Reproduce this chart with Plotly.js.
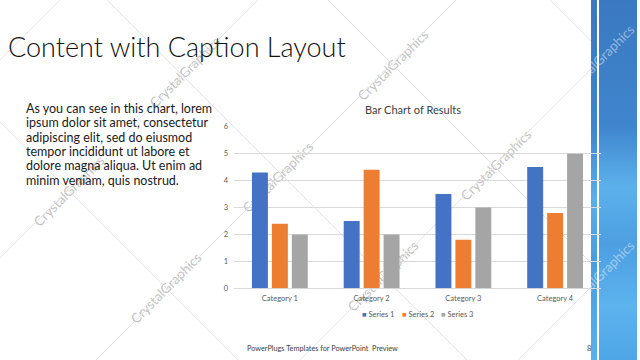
<!DOCTYPE html>
<html><head><meta charset="utf-8">
<script src="https://cdn.plot.ly/plotly-3.0.1.min.js"></script>
<style>
html,body{margin:0;padding:0;background:#fff;width:640px;height:360px;overflow:hidden;}
#band,#wm,#chart{position:absolute;top:0;left:0;width:640px;height:360px;}
#band{z-index:0;} #wm{z-index:1;} #chart{z-index:2;}
.wmt{position:absolute;font-family:Lato,sans-serif;font-size:13.5px;color:#c2c2c2;white-space:nowrap;transform:translate(-50%,-50%) rotate(-45deg);}
.wmt.onblue{color:rgba(255,255,255,0.45);}
</style></head><body>
<div id="band">
  <div style="position:absolute;left:591px;top:0;width:6px;height:360px;background:linear-gradient(to bottom,#3a78c0 0%,#3f84cc 35%,#5aaee9 55%,#4b9ddf 72%,#58b0ec 100%);"></div>
  <div style="position:absolute;left:599px;top:0;width:38px;height:360px;background:linear-gradient(to bottom,#3a79c1 0%,#3f85cd 35%,#5cb1ec 52%,#4d9fe1 68%,#5cb3ee 85%,#4fa6e6 100%);"></div>
</div>
<div id="wm"></div>
<div id="chart"></div>
<script>
// ---- data ----
const categories = ['Category 1', 'Category 2', 'Category 3', 'Category 4'];
const seriesNames = ['Series 1', 'Series 2', 'Series 3'];
const series1 = [4.3, 2.5, 3.5, 4.5];
const series2 = [2.4, 4.4, 1.8, 2.8];
const series3 = [2, 2, 3, 5];
const yTickValues = [0, 1, 2, 3, 4, 5, 6];
const chartTitle = 'Bar Chart of Results';
const slideTitle = 'Content with Caption Layout';
const bodyLines = [
  'As you can see in this chart, lorem',
  'ipsum dolor sit amet, consectetur',
  'adipiscing elit, sed do eiusmod',
  'tempor incididunt ut labore et',
  'dolore magna aliqua. Ut enim ad',
  'minim veniam, quis nostrud.'
];
const footerText = 'PowerPlugs Templates for PowerPoint  Preview';
const pageNumber = '8';
const watermarkText = 'CrystalGraphics';

// ---- style ----
const W = 640, H = 360;
const colors = ['#4472C4', '#ED7D31', '#A5A5A5'];
const px = x => x / W;
const py = y => 1 - y / H;

// watermark text (decorative background)
const wmPos = [[393,65,0],[185,72,0],[599,60,1],[278,177,0],[496,165,0],[69,191,0],[166,288,0],[383,276,0],[599,276,1]];
const wm = document.getElementById('wm');
wmPos.forEach(p => {
  const d = document.createElement('div');
  d.className = 'wmt' + (p[2] ? ' onblue' : '');
  d.style.left = p[0] + 'px'; d.style.top = p[1] + 'px';
  d.textContent = watermarkText;
  wm.appendChild(d);
});

// diagonal watermark lines
const shapes = [];
const xmax = 591;
[60, 258, 456, 660, 878].forEach(c => {
  const x0 = Math.max(0, c - H), x1 = Math.min(xmax, c);
  if (x1 > x0) shapes.push({type:'line', xref:'paper', yref:'paper', layer:'below',
    x0:px(x0), y0:py(c - x0), x1:px(x1), y1:py(c - x1), line:{color:'#e4e4e4', width:1}});
});
[-122, 107, 328, 550].forEach(c => {
  const x0 = Math.max(0, c), x1 = Math.min(xmax, H + c);
  if (x1 > x0) shapes.push({type:'line', xref:'paper', yref:'paper', layer:'below',
    x0:px(x0), y0:py(x0 - c), x1:px(x1), y1:py(x1 - c), line:{color:'#e4e4e4', width:1}});
});

const seriesValues = [series1, series2, series3];
const traces = seriesValues.map((vals, i) => ({
  type: 'bar', x: categories, y: vals, name: seriesNames[i],
  marker: {color: colors[i]}, hoverinfo: 'none'
}));

const annotations = [];
annotations.push({text: slideTitle, xref:'paper', yref:'paper', x:px(6), y:py(47),
  xanchor:'left', yanchor:'middle', showarrow:false,
  font:{family:'Lato', size:27, weight:300, color:'#111'}});
bodyLines.forEach((t, i) => annotations.push({text:t, xref:'paper', yref:'paper',
  x:px(24), y:py(108.3 + i * 14.4), xanchor:'left', yanchor:'middle', showarrow:false,
  font:{family:'Lato', size:12.5, color:'#1a1a1a'}}));
annotations.push({text: footerText, xref:'paper', yref:'paper', x:px(245), y:py(348),
  xanchor:'left', yanchor:'middle', showarrow:false, font:{family:'Lato', size:7.3, color:'#404040'}});
annotations.push({text: pageNumber, xref:'paper', yref:'paper', x:px(589), y:py(348),
  xanchor:'center', yanchor:'middle', showarrow:false, font:{family:'Lato', size:7.5, color:'#404040'}});
// legend
const legendX = [360, 399.5, 439];
seriesNames.forEach((n, i) => annotations.push({
  text:'<span style="color:' + colors[i] + '">■</span> ' + n, xref:'paper', yref:'paper',
  x:px(legendX[i]), y:py(314.5), xanchor:'left', yanchor:'middle', showarrow:false,
  font:{family:'Lato', size:7.5, color:'#595959'}}));

const layout = {
  width: W, height: H,
  margin: {l:0, r:0, t:0, b:0},
  paper_bgcolor: 'rgba(0,0,0,0)', plot_bgcolor: 'rgba(0,0,0,0)',
  showlegend: false,
  barmode: 'group', bargap: 0.348, bargroupgap: 0.2,
  title: {text: chartTitle, x: px(413), xanchor:'center', y: py(110), yanchor:'middle',
    font:{family:'Lato', size:11, color:'#404040'}},
  xaxis: {domain:[px(234), px(601)], showgrid:false, showline:false, zeroline:false,
    ticks:'', tickfont:{family:'Lato', size:7.5, color:'#595959'}, ticklabelstandoff: 4, fixedrange:true},
  yaxis: {domain:[py(288.3), py(126.7)], range:[0, 6], tickvals: yTickValues,
    showgrid:true, gridcolor:'#d9d9d9', gridwidth:1, zeroline:true, zerolinecolor:'#d9d9d9', zerolinewidth:1,
    showline:false, ticks:'', tickfont:{family:'Lato', size:7.5, color:'#595959'}, ticklabelstandoff: 5, fixedrange:true},
  shapes: shapes,
  annotations: annotations
};
Plotly.newPlot('chart', traces, layout, {displayModeBar:false, staticPlot:true});
</script>
</body></html>
